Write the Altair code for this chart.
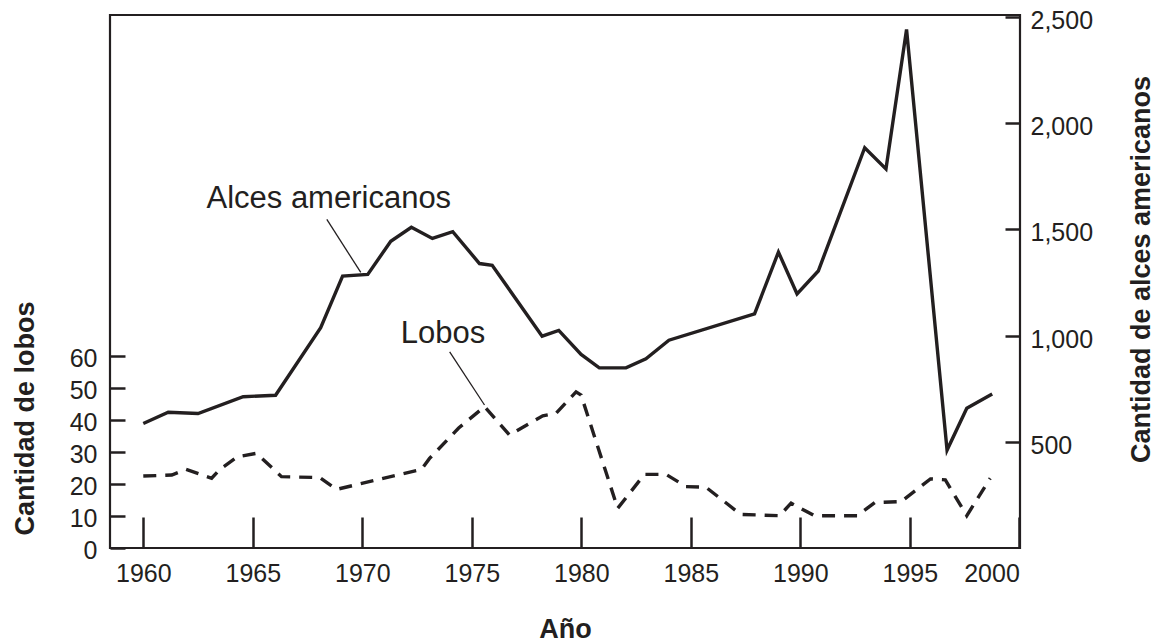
import altair as alt
import pandas as pd

# ---- data ----
moose_years = [1960.0, 1961.14, 1962.5, 1964.56, 1966.04, 1968.1, 1969.1, 1970.25, 1971.3,
               1972.24, 1973.2, 1974.13, 1975.35, 1975.93, 1978.21, 1978.97, 1979.99, 1980.82,
               1982.04, 1982.95, 1984.0, 1987.91, 1989.0, 1989.85, 1990.82, 1992.94, 1993.91,
               1994.85, 1996.7, 1997.6, 1998.76]
moose_counts = [586, 639, 633, 712, 719, 1037, 1280, 1288, 1444, 1510, 1457, 1489, 1339, 1331,
                997, 1024, 911, 848, 848, 891, 978, 1102, 1393, 1196, 1304, 1884, 1784, 2441,
                461, 658, 725]

wolf_years = [1960.0, 1961.3, 1961.95, 1963.12, 1963.5, 1964.3, 1965.17, 1966.31, 1968.06,
              1968.82, 1972.7, 1973.07, 1974.4, 1975.58, 1976.72, 1978.24, 1978.85, 1979.76,
              1979.99, 1981.66, 1982.88, 1983.87, 1984.78, 1985.69, 1987.28, 1989.05, 1989.58,
              1990.64, 1992.6, 1993.4, 1994.6, 1995.94, 1996.62, 1997.6, 1998.67]
wolf_counts = [22.5, 22.8, 24.6, 21.8, 24.6, 28.5, 29.6, 22.3, 22.0, 18.3, 24.6, 28.0, 37.5,
               44.2, 35.3, 41.3, 42.1, 48.8, 47.8, 12.4, 23.0, 23.0, 19.2, 19.0, 10.5, 10.1,
               14.0, 10.1, 10.1, 14.2, 14.5, 21.6, 21.3, 10.1, 21.8]

x_ticks = [1960, 1965, 1970, 1975, 1980, 1985, 1990, 1995, 2000]
wolf_ticks = [0, 10, 20, 30, 40, 50, 60]
moose_ticks = [500, 1000, 1500, 2000, 2500]

moose_label = ["Alces americanos"]
moose_label_pos = [1968.47, 1602]
moose_leader = [1968.38, 1547, 1969.93, 1297]
wolf_label = ["Lobos"]
wolf_label_pos = [1973.68, 64.0]
wolf_leader = [1973.99, 61.3, 1975.58, 44.7]

INK = "#231f20"
FONT = "Liberation Sans"
x_dom = [1958.48, 2000.03]
moose_dom = [0, 2509]
wolf_dom = [0, 166.6]

moose_df = pd.DataFrame({"year": moose_years, "count": moose_counts})
wolf_df = pd.DataFrame({"year": wolf_years, "count": wolf_counts})

xs = alt.Scale(domain=x_dom, nice=False, zero=False)
ms = alt.Scale(domain=moose_dom, nice=False, zero=False)
ws = alt.Scale(domain=wolf_dom, nice=False, zero=False)

x_axis = alt.Axis(values=x_ticks, format="d", title="Año", offset=-31, tickSize=31,
                  tickWidth=2.5, tickColor=INK, domain=False, grid=False,
                  labelFontSize=25, labelFont=FONT, labelColor=INK, labelPadding=13,
                  titleFontSize=27, titleFont=FONT, titleFontWeight="bold", titleColor=INK,
                  titleBaseline="alphabetic", titleY=120)

moose_axis = alt.Axis(orient="right", values=moose_ticks, format=",d",
                      title="Cantidad de alces americanos", offset=-15, tickSize=15,
                      tickWidth=2.5, tickColor=INK, domain=False, grid=False,
                      labelFontSize=25, labelFont=FONT, labelColor=INK, labelPadding=10,
                      labelOffset=3.5,
                      titleFontSize=27, titleFont=FONT, titleFontWeight="bold", titleColor=INK,
                      titleAngle=270, titleBaseline="alphabetic", titleAlign="center",
                      titleX=144, titleY=254)

wolf_axis = alt.Axis(orient="left", values=wolf_ticks, format="d",
                     title="Cantidad de lobos", offset=-15, tickSize=15,
                     tickWidth=2.5, tickColor=INK, domain=False, grid=False,
                     labelFontSize=25, labelFont=FONT, labelColor=INK, labelPadding=13,
                     labelOffset=2,
                     titleFontSize=27, titleFont=FONT, titleFontWeight="bold", titleColor=INK,
                     titleAngle=270, titleBaseline="alphabetic", titleAlign="center",
                     titleX=-92, titleY=403)

X = lambda f: alt.X(f, scale=xs, axis=x_axis)
YM = lambda f: alt.Y(f, scale=ms, axis=moose_axis)
YW = lambda f: alt.Y(f, scale=ws, axis=wolf_axis)

moose_line = alt.Chart(moose_df).mark_line(color=INK, strokeWidth=3.4, strokeJoin="miter").encode(
    x=X("year:Q"), y=YM("count:Q"),
)
moose_text = alt.Chart(pd.DataFrame({"t": moose_label, "x": [moose_label_pos[0]], "y": [moose_label_pos[1]]})).mark_text(
    font=FONT, fontSize=31, color=INK, align="center", baseline="alphabetic"
).encode(x=X("x:Q"), y=YM("y:Q"), text="t:N")
moose_lead = alt.Chart(pd.DataFrame({"x": [moose_leader[0]], "y": [moose_leader[1]],
                                     "x2": [moose_leader[2]], "y2": [moose_leader[3]]})).mark_rule(
    color=INK, strokeWidth=1.3
).encode(x=X("x:Q"), y=YM("y:Q"), x2="x2:Q", y2="y2:Q")

wolf_line = alt.Chart(wolf_df).mark_line(color=INK, strokeWidth=3.4, strokeDash=[13, 9]).encode(
    x=X("year:Q"), y=YW("count:Q"),
)
wolf_text = alt.Chart(pd.DataFrame({"t": wolf_label, "x": [wolf_label_pos[0]], "y": [wolf_label_pos[1]]})).mark_text(
    font=FONT, fontSize=31, color=INK, align="center", baseline="alphabetic"
).encode(x=X("x:Q"), y=YW("y:Q"), text="t:N")
wolf_lead = alt.Chart(pd.DataFrame({"x": [wolf_leader[0]], "y": [wolf_leader[1]],
                                    "x2": [wolf_leader[2]], "y2": [wolf_leader[3]]})).mark_rule(
    color=INK, strokeWidth=1.3
).encode(x=X("x:Q"), y=YW("y:Q"), x2="x2:Q", y2="y2:Q")

moose_group = alt.layer(moose_line, moose_text, moose_lead)
wolf_group = alt.layer(wolf_line, wolf_text, wolf_lead)

chart = alt.layer(moose_group, wolf_group).resolve_scale(y="independent").properties(
    width=910, height=533,
    padding={"left": 102, "top": 7, "right": 134, "bottom": 95},
    autosize=alt.AutoSizeParams(type="none"),
    background="white",
).configure_view(stroke=INK, strokeWidth=2.2)

chart.save("out.html", embed_options={"renderer": "svg", "actions": False})
